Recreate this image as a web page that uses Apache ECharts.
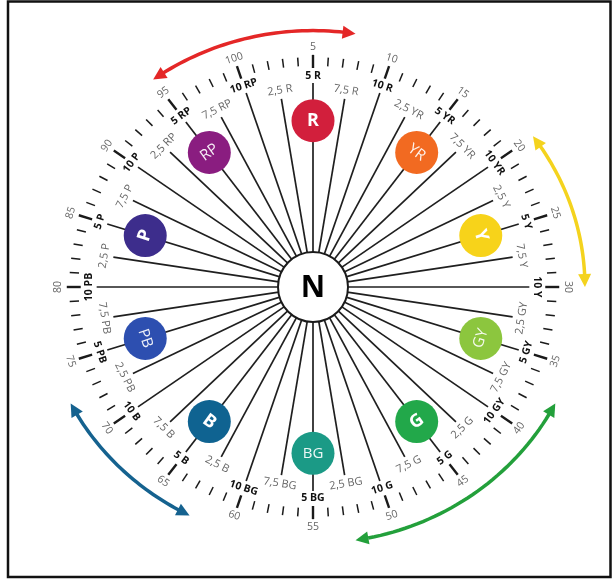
<!DOCTYPE html>
<html><head><meta charset="utf-8">
<script src="https://cdn.jsdelivr.net/npm/echarts@6/dist/echarts.min.js"></script>
<style>html,body{margin:0;padding:0;background:#fff}#c{width:613px;height:580px}</style>
</head><body><div id="c"></div>
<script>
// Hue circle (Munsell) – positions are hue numbers 1..100, 5 at top, clockwise
const tickValues = [1,2,3,4,5,6,7,8,9,10,11,12,13,14,15,16,17,18,19,20,21,22,23,24,25,26,27,28,29,30,31,32,33,34,35,36,37,38,39,40,41,42,43,44,45,46,47,48,49,50,51,52,53,54,55,56,57,58,59,60,61,62,63,64,65,66,67,68,69,70,71,72,73,74,75,76,77,78,79,80,81,82,83,84,85,86,87,88,89,90,91,92,93,94,95,96,97,98,99,100];
const numberLabels = [5,10,15,20,25,30,35,40,45,50,55,60,65,70,75,80,85,90,95,100];
const spokeValues = [2.5,5,7.5,10,12.5,15,17.5,20,22.5,25,27.5,30,32.5,35,37.5,40,42.5,45,47.5,50,52.5,55,57.5,60,62.5,65,67.5,70,72.5,75,77.5,80,82.5,85,87.5,90,92.5,95,97.5,100];
const spokeLabels = ['2,5 R','5 R','7,5 R','10 R','2,5 YR','5 YR','7,5 YR','10 YR','2,5 Y','5 Y','7,5 Y','10 Y','2,5 GY','5 GY','7,5 GY','10 GY','2,5 G','5 G','7,5 G','10 G','2,5 BG','5 BG','7,5 BG','10 BG','2,5 B','5 B','7,5 B','10 B','2,5 PB','5 PB','7,5 PB','10 PB','2,5 P','5 P','7,5 P','10 P','2,5 RP','5 RP','7,5 RP','10 RP'];
const hueNames = ['R','YR','Y','GY','G','BG','B','PB','P','RP'];
const huePositions = [5,15,25,35,45,55,65,75,85,95];
const hueColors = ['#d21f3c','#f26a21','#f7d31a','#8cc63e','#22a84a','#1b9a86','#0f6391','#2d4fb0','#3d2d8c','#8a1d80'];
const arrowStart = [95,20,37.5,62.5];
const arrowEnd = [107.5,30,52.5,72.5];
const arrowColors = ['#e42727','#f4d31e','#23a03b','#15628f'];

const FONT = '"Open Sans", "Noto Sans", sans-serif';
function ang(h){ return (h-5)*3.6*Math.PI/180; }
function P(api,h,r){ const t=ang(h); return api.coord([r*Math.sin(t), r*Math.cos(t)]); }
function textRot(h){
  let d=((h-5)*3.6)%360; if(d>180) d-=360; if(d<=-180) d+=360;
  let r = (Math.abs(d)<=90.01) ? d : (d>0 ? d-180 : d+180);
  return -r*Math.PI/180;
}
function txt(api,h,r,text,font,fill){
  const p=P(api,h,r);
  return {type:'text', x:p[0], y:p[1], rotation:textRot(h),
    style:{text:text, x:0, y:0, font:font, fill:fill, align:'center', verticalAlign:'middle', textAlign:'center', textVerticalAlign:'middle'}};
}
const isMajor = v => Math.abs(v/5 - Math.round(v/5))<1e-6;

const chart = echarts.init(document.getElementById('c'), null, {renderer:'canvas'});
const option = {
  animation:false,
  backgroundColor:'#fff',
  grid:{left:19, width:588, top:9.8, height:554.4},
  xAxis:{type:'value', min:-1.2, max:1.2, show:false},
  yAxis:{type:'value', min:-1.2, max:1.2, show:false},
  graphic:[{type:'rect', shape:{x:8, y:1.5, width:602.5, height:575.5}, style:{fill:'none', stroke:'#111', lineWidth:2.5}, z:100}],
  series:[
    { // ticks
      type:'custom', data:tickValues.map(v=>[v]),
      renderItem:(params,api)=>{
        const h=api.value(0), maj=isMajor(h);
        const a=P(api,h,maj?0.948:0.957), b=P(api,h,maj?1.005:0.995);
        return {type:'line', shape:{x1:a[0],y1:a[1],x2:b[0],y2:b[1]}, style:{stroke:'#1a1a1a', lineWidth:maj?2.4:1.5}};
      }
    },
    { // spokes
      type:'custom', data:spokeValues.map(v=>[v]),
      renderItem:(params,api)=>{
        const h=api.value(0);
        const a=P(api,h,0.1), b=P(api,h,isMajor(h)?0.883:0.825);
        return {type:'line', shape:{x1:a[0],y1:a[1],x2:b[0],y2:b[1]}, style:{stroke:'#1f1f1f', lineWidth:1.7}};
      }
    },
    { // number labels
      type:'custom', data:numberLabels.map(v=>[v]),
      renderItem:(params,api)=>{
        const h=api.value(0);
        return txt(api,h,1.04,String(numberLabels[params.dataIndex]),'10.5px '+FONT,'#666');
      }
    },
    { // spoke labels
      type:'custom', data:spokeValues.map(v=>[v]),
      renderItem:(params,api)=>{
        const h=api.value(0), lab=spokeLabels[params.dataIndex];
        if(isMajor(h)) return txt(api,h,0.915,lab,'bold 10.5px '+FONT,'#111');
        return txt(api,h,0.862,lab,'11px '+FONT,'#666');
      }
    },
    { // arrows
      type:'custom', data:arrowStart.map((s,i)=>[s,arrowEnd[i]]),
      renderItem:(params,api)=>{
        const s=api.value(0), e=api.value(1), col=arrowColors[params.dataIndex];
        const R=1.11, pts=[];
        const n=40;
        for(let i=0;i<=n;i++){ pts.push(P(api, s+(e-s)*i/n, R)); }
        function head(tip, prev){
          const dx=tip[0]-prev[0], dy=tip[1]-prev[1], L=Math.hypot(dx,dy), ux=dx/L, uy=dy/L;
          const len=13, w=6.5;
          const bx=tip[0]-ux*len, by=tip[1]-uy*len;
          return {type:'polygon', shape:{points:[tip,[bx-uy*w,by+ux*w],[bx+uy*w,by-ux*w]]}, style:{fill:col}};
        }
        const inner=pts.slice(2,pts.length-2);
        return {type:'group', children:[
          {type:'polyline', shape:{points:inner}, style:{stroke:col, lineWidth:3.5, fill:'none'}},
          head(pts[0],pts[3]), head(pts[n],pts[n-3])
        ]};
      }
    },
    { // N circle
      type:'custom', data:[[0]],
      renderItem:(params,api)=>{
        const c=api.coord([0,0]);
        return {type:'group', children:[
          {type:'circle', shape:{cx:c[0],cy:c[1],r:35}, style:{fill:'#fff', stroke:'#1a1a1a', lineWidth:2}},
          {type:'text', x:c[0], y:c[1]+1, style:{text:'N', x:0, y:0, font:'bold 30px '+FONT, fill:'#000', align:'center', verticalAlign:'middle', textAlign:'center', textVerticalAlign:'middle'}}
        ]};
      }
    },
    { // hue circles
      type:'custom', data:huePositions.map(v=>[v]),
      renderItem:(params,api)=>{
        const h=api.value(0), i=params.dataIndex, p=P(api,h,0.72), name=hueNames[i];
        const single=name.length===1;
        return {type:'group', children:[
          {type:'circle', shape:{cx:p[0],cy:p[1],r:21.5}, style:{fill:hueColors[i]}},
          {type:'text', x:p[0], y:p[1], rotation:textRot(h), style:{text:name, x:0, y:0, font:(single?'bold 18px ':'15px ')+FONT, fill:'#fff', opacity:single?1:0.92, align:'center', verticalAlign:'middle', textAlign:'center', textVerticalAlign:'middle'}}
        ]};
      }
    }
  ]
};
chart.setOption(option);
</script></body></html>
